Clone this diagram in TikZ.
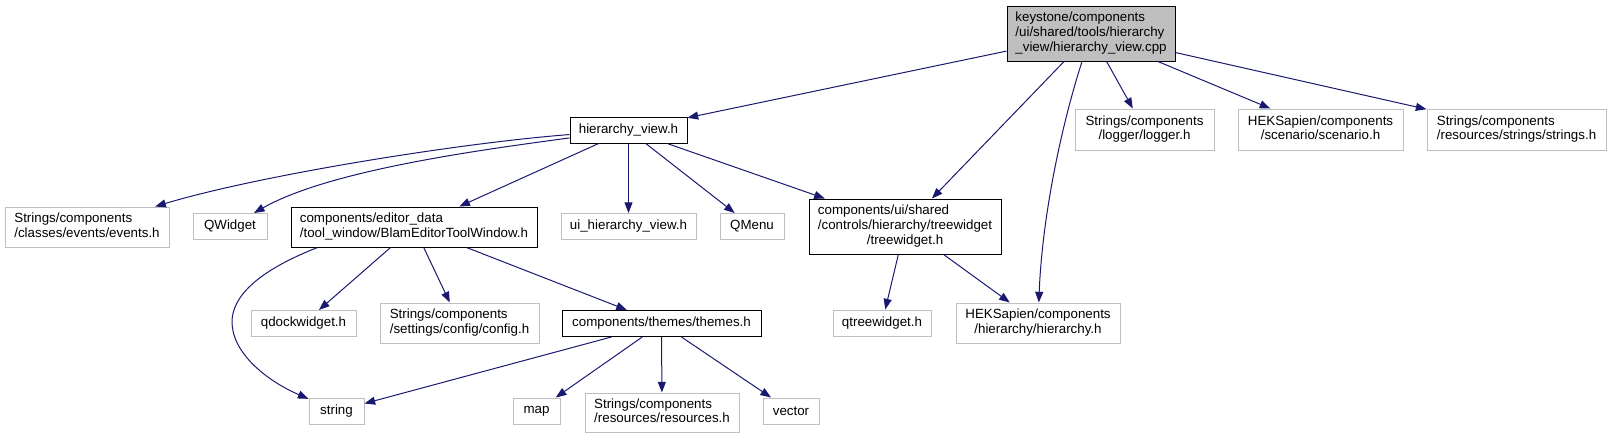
\documentclass[tikz,border=0pt]{standalone}
\usepackage{fontspec}
\setmainfont{Liberation Sans}
\usetikzlibrary{arrows.meta}
\definecolor{dxblue}{RGB}{25,25,112}
\definecolor{dxgray}{RGB}{191,191,191}
% upper lines flush left, last line centred
\newcommand{\flbl}[2]{\begin{tabular}{@{}l@{}}#1\\\multicolumn{1}{@{}c@{}}{#2}\end{tabular}}

\tikzset{
  file/.style={draw=dxgray, line width=0.75pt, inner sep=1pt,
    font=\fontsize{10}{11}\selectfont},
  docfile/.style={file, draw=black},
  sz/.style 2 args={minimum width=#1*0.75pt, minimum height=#2*0.75pt},
  dep/.style={dxblue, line width=0.75pt, -{Triangle[length=8pt,width=6pt]}},
}

\begin{document}
\begin{tikzpicture}[x=0.75pt,y=-0.75pt]
  \useasboundingbox (0,0) rectangle (1612,439);
  % the source file
  \node[docfile, fill=dxgray, sz={168}{55}] (root) at (1091,33.5)
    {\flbl{keystone/components\\/ui/shared/tools/hierarchy}{\_view/hierarchy\_view.cpp}};
  % first level
  \node[docfile, sz={117}{26}] (hview) at (628.5,130) {hierarchy\_view.h};
  \node[file, sz={139}{41}] (logger) at (1144.5,129.5) {\flbl{Strings/components}{/logger/logger.h}};
  \node[file, sz={165}{41}] (scenario) at (1320.5,129.5) {\flbl{HEKSapien/components}{/scenario/scenario.h}};
  \node[file, sz={179}{41}] (strings) at (1516.5,129.5) {\flbl{Strings/components}{/resources/strings/strings.h}};
  % second level
  \node[file, sz={164}{40}] (events) at (87,227) {\flbl{Strings/components}{/classes/events/events.h}};
  \node[file, sz={74}{26}] (qwidget) at (230,226.5) {QWidget};
  \node[docfile, sz={246}{40}] (blamwin) at (414,227) {\flbl{components/editor\_data}{/tool\_window/BlamEditorToolWindow.h}};
  \node[file, sz={135}{26}] (uiview) at (628.5,226.5) {ui\_hierarchy\_view.h};
  \node[file, sz={64}{26}] (qmenu) at (752,226.5) {QMenu};
  \node[docfile, sz={192}{55}] (tree) at (905,226.5) {\flbl{components/ui/shared\\/controls/hierarchy/treewidget}{/treewidget.h}};
  % third level
  \node[file, sz={105}{26}] (qdock) at (303.5,323.5) {qdockwidget.h};
  \node[file, sz={159}{40}] (config) at (459.5,323) {\flbl{Strings/components}{/settings/config/config.h}};
  \node[docfile, sz={199}{26}] (themes) at (661.5,323.5) {components/themes/themes.h};
  \node[file, sz={98}{26}] (qtree) at (882,323) {qtreewidget.h};
  \node[file, sz={164}{40}] (hier) at (1038,323) {\flbl{HEKSapien/components}{/hierarchy/hierarchy.h}};
  % fourth level
  \node[file, sz={55}{26}] (str) at (336.5,411) {string};
  \node[file, sz={47}{26}] (map) at (536.5,411) {map};
  \node[file, sz={154}{39}] (res) at (662,412.5) {\flbl{Strings/components}{/resources/resources.h}};
  \node[file, sz={56}{26}] (vec) at (791,411) {vector};

  % includes of the source file
  \draw[dep] (root) -- (hview);
  \draw[dep] (root) -- (tree);
  \draw[dep] (root) .. controls (1060,130) and (1042,220) .. (hier);
  \draw[dep] (root) -- (logger);
  \draw[dep] (root) -- (scenario);
  \draw[dep] (root) -- (strings);
  % includes of hierarchy_view.h
  \draw[dep] (hview) .. controls (460,143) and (260,175) .. (events);
  \draw[dep] (hview) .. controls (480,150) and (330,170) .. (qwidget);
  \draw[dep] (hview) -- (blamwin);
  \draw[dep] (hview) -- (uiview);
  \draw[dep] (hview) -- (qmenu);
  \draw[dep] (hview) -- (tree);
  \draw[dep] (tree) -- (qtree);
  \draw[dep] (tree) -- (hier);
  % includes of BlamEditorToolWindow.h
  \draw[dep] (blamwin.192) .. controls (255,272) and (232,298) .. (232,322)
    .. controls (232,352) and (265,380) .. (str);
  \draw[dep] (blamwin) -- (qdock);
  \draw[dep] (blamwin) -- (config);
  \draw[dep] (blamwin) -- (themes);
  % includes of themes.h
  \draw[dep] (themes) -- (str);
  \draw[dep] (themes) -- (map);
  \draw[dep] (themes) -- (res);
  \draw[dep] (themes) -- (vec);
\end{tikzpicture}
\end{document}
